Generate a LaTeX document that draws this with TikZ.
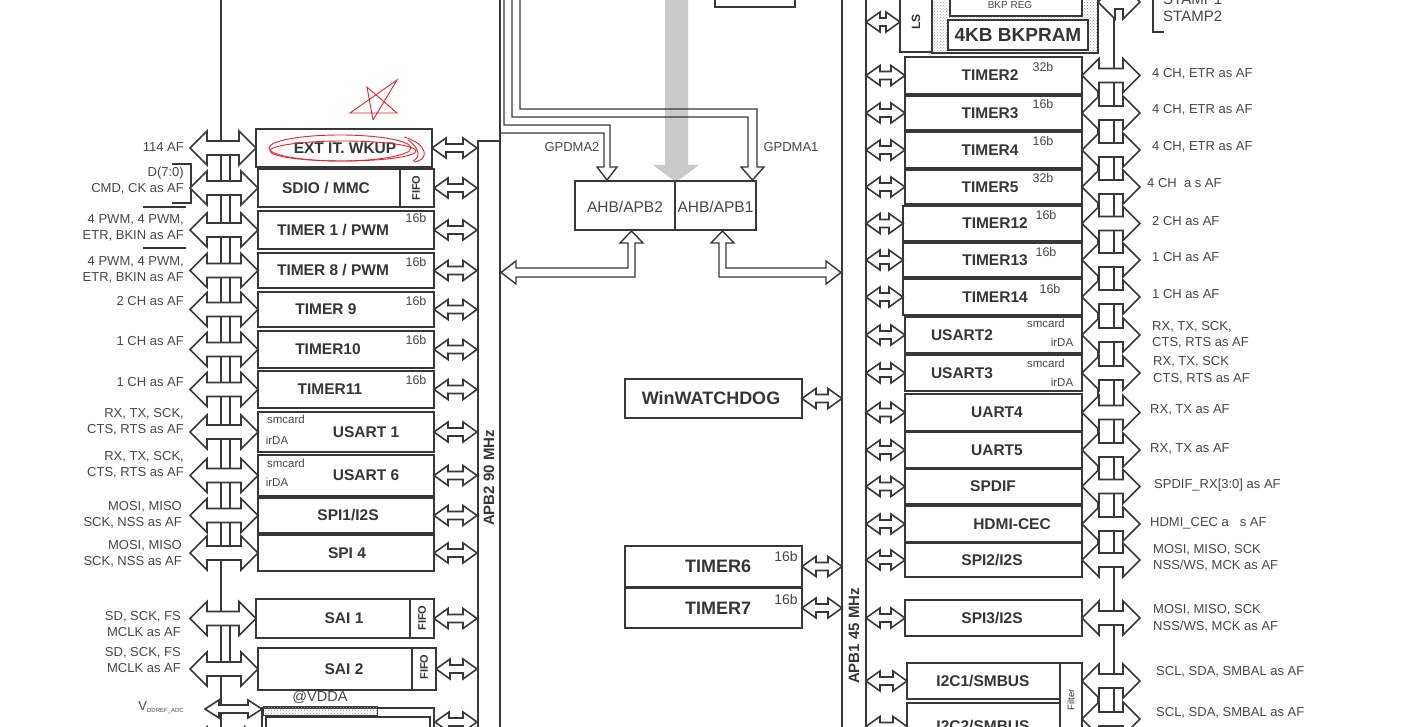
\documentclass[tikz,border=0pt]{standalone}
\usepackage{fontspec}
\setmainfont{Liberation Sans}
\usetikzlibrary{calc,patterns}
\definecolor{lc}{HTML}{383838}
\definecolor{tc}{HTML}{363636}
\definecolor{sc}{HTML}{474747}
\definecolor{rd}{HTML}{E2262C}
\definecolor{gr}{HTML}{C9C9C9}
\tikzset{
 box/.style={draw=lc, line width=1.5pt, fill=white, inner sep=0pt, outer sep=0pt},
 btxt/.style={text=tc, font=\bfseries\fontsize{15.5}{18}\selectfont, inner sep=0pt},
 ctxt/.style={text=tc, font=\bfseries\fontsize{18}{21}\selectfont, inner sep=0pt},
 ltxt/.style={text=sc, font=\fontsize{13}{16}\selectfont, inner sep=0pt, align=right, anchor=east},
 rtxt/.style={text=sc, font=\fontsize{13}{16.5}\selectfont, inner sep=0pt, align=left, anchor=west},
 bitl/.style={text=sc, font=\fontsize{12.5}{14}\selectfont, inner sep=0pt},
 smt/.style={text=sc, font=\fontsize{11.5}{13}\selectfont, inner sep=0pt},
 vtxt/.style={text=tc, font=\bfseries\fontsize{11}{13}\selectfont, inner sep=0pt, rotate=90},
 darr/.style={draw=lc, line width=1.6pt, fill=white, line join=miter},
 bus/.style={draw=lc, line width=1.5pt},
 hol/.style={draw=lc, line width=1.4pt, line join=miter},
 redpen/.style={draw=rd, line width=0.9pt},
}
% box without text
\newcommand{\bxo}[5]{\node[box, minimum width={(#4-#2)*1pt}, minimum height={(#5-#3)*1pt}] (#1) at ({(#2+#4)/2},{(#3+#5)/2}) {};}
% box with text at given x
\newcommand{\bx}[7]{\bxo{#1}{#2}{#3}{#4}{#5}\node[btxt] (#1t) at (#6,{(#3+#5)/2}) {#7};}
% outlined double arrow: left point, right point, shaft half, head half, head length
\newcommand{\DA}[5]{\filldraw[darr] let \p1=#1, \p2=#2 in (\x1,\y1) -- (\x1+#5pt,\y1+#4pt) -- (\x1+#5pt,\y1+#3pt) -- (\x2-#5pt,\y1+#3pt) -- (\x2-#5pt,\y1+#4pt) -- (\x2,\y1) -- (\x2-#5pt,\y1-#4pt) -- (\x2-#5pt,\y1-#3pt) -- (\x1+#5pt,\y1-#3pt) -- (\x1+#5pt,\y1-#4pt) -- cycle;}
\begin{document}
\begin{tikzpicture}[x=1pt,y=-1pt]
\clip (0,0) rectangle (1417,727);
\fill[white] (0,0) rectangle (1417,727);

% bus coordinates
\coordinate (lb) at (190,0);
\coordinate (a2) at (477,0);
\coordinate (a2r) at (500,0);
\coordinate (a1) at (842,0);
\coordinate (a1r) at (866,0);
\coordinate (rb) at (1140,0);

% bus lines
\draw[bus] (221,-5) -- (221,740);
\draw[bus] (230,148) -- (230,553) (230,622) -- (230,669);
\draw[bus] (478,740) -- (478,141) -- (500,141);
\draw[bus] (500,-5) -- (500,740);
\draw[bus] (842,-5) -- (842,740);
\draw[bus] (866,-5) -- (866,740);
\draw[bus] (1114,-5) -- (1114,740);
\draw[bus] (1098,75) -- (1098,560) (1098,680) -- (1098,740);

\node[text=tc, font=\bfseries\fontsize{15}{17}\selectfont, rotate=90, inner sep=0pt] (apb2) at (489,478) {APB2 90 MHz};
\node[text=tc, font=\bfseries\fontsize{15}{17}\selectfont, rotate=90, inner sep=0pt] (apb1) at (854,636) {APB1 45 MHz};

% left side separators
\draw[lc, line width=1.2pt] (172,164) -- (191,164) -- (191,203) -- (172,203);
\draw[lc, line width=1.2pt] (143,207) -- (186,207);
\draw[lc, line width=1.2pt] (143,248) -- (186,248);

% top center box and gray arrow
\draw[lc, line width=1.5pt] (715,-20) rectangle (795,7);
\fill[gr] (665,-5) -- (665,165) -- (653,165) -- (676,182) -- (699,165) -- (688,165) -- (688,-5) -- cycle;

% GPDMA lines
\draw[hol] (504,-5) |- (610,125) -- (610,167) -- (617,167) -- (607,180) -- (597,167) -- (604,167) -- (604,133) -- (500,133);
\draw[hol] (520,-5) |- (757,109) -- (757,167) -- (764,167) -- (752.5,180) -- (741,167) -- (748,167) -- (748,117) -- (512,117) -- (512,-5);
\node[rtxt, anchor=center] (gp2) at (572,147) {GPDMA2};
\node[rtxt, anchor=center] (gp1) at (791,147) {GPDMA1};

% AHB bridges
\bxo{ahb2}{575}{181}{675}{230}
\bxo{ahb1}{675}{181}{756}{230}
\node[text=sc, font=\fontsize{15.5}{18}\selectfont, inner sep=0pt] (ahb2t) at (625,207) {AHB/APB2};
\node[text=sc, font=\fontsize{15.5}{18}\selectfont, inner sep=0pt] (ahb1t) at (715.5,207) {AHB/APB1};
\draw[hol] (628,243) -- (628,268) -- (516,268) -- (516,261) -- (501,272.5) -- (516,284) -- (516,277) -- (635,277) -- (635,243) -- (643,243) -- (631.5,231) -- (620,243) -- cycle;
\draw[hol] (719,243) -- (719,277) -- (826,277) -- (826,284) -- (841,272.5) -- (826,261) -- (826,268) -- (726,268) -- (726,243) -- (734,243) -- (722.5,231) -- (711,243) -- cycle;

% ---------- left column ----------
\bx{ext}{256}{129}{432}{167}{345}{EXT IT. WKUP}
\bx{sdio}{258}{169}{434}{207}{326}{SDIO / MMC}
\bxo{sdiof}{400}{169}{434}{207}
\node[vtxt] (sdioft) at (416,188) {FIFO};
\bx{t1}{258}{211}{434}{249}{333}{TIMER 1 / PWM}
\bx{t8}{258}{253}{434}{288}{333}{TIMER 8 / PWM}
\bx{t9}{258}{292}{434}{327}{326}{TIMER 9}
\bx{t10}{258}{331}{434}{368}{328}{TIMER10}
\bx{t11}{258}{371}{434}{408}{330}{TIMER11}
\bx{u1}{258}{412}{434}{452}{366}{USART 1}
\bx{u6}{258}{455}{434}{496}{366}{USART 6}
\bx{spia}{258}{498}{434}{533}{348}{SPI1/I2S}
\bx{spib}{258}{535}{434}{571}{347}{SPI 4}
\bx{saia}{256}{599}{434}{638}{344}{SAI 1}
\bxo{saiaf}{410}{599}{434}{638}
\node[vtxt] (saiaft) at (422,618) {FIFO};
\bx{saib}{258}{648}{436}{690}{344}{SAI 2}
\bxo{saibf}{412}{648}{436}{690}
\node[vtxt] (saibft) at (424,667) {FIFO};

\node[bitl] (b1) at (416,218) {16b};
\node[bitl] (b8) at (416,262) {16b};
\node[bitl] (b9) at (416,301) {16b};
\node[bitl] (b10) at (416,340) {16b};
\node[bitl] (b11) at (416,380) {16b};
\node[smt] (u1s) at (286,419) {smcard};
\node[smt] (u1i) at (277,440) {irDA};
\node[smt] (u6s) at (286,463) {smcard};
\node[smt] (u6i) at (277,482) {irDA};

% temp sensor area
\node[text=sc, font=\fontsize{14.5}{17}\selectfont, inner sep=0pt] (vdda) at (320,697) {@VDDA};
\bxo{tmp}{262}{708}{434}{780}
\node[draw=lc, line width=1pt, pattern=crosshatch dots, pattern color=gray!70, minimum width=114pt, minimum height=9pt, inner sep=0pt] (strip) at (320,710.5) {};
\bxo{tmpi}{266}{717}{430}{780}
\node[btxt] (tmpt) at (345,733) {TEMP SENSOR};

% left labels
\node[ltxt] (l0) at (184,147) {114 AF};
\node[ltxt] (l1) at (184,181) {D(7:0)\\CMD, CK as AF};
\node[ltxt] (l2) at (184,228) {4 PWM, 4 PWM,\\ETR, BKIN as AF};
\node[ltxt] (l3) at (184,270) {4 PWM, 4 PWM,\\ETR, BKIN as AF};
\node[ltxt] (l4) at (184,301) {2 CH as AF};
\node[ltxt] (l5) at (184,341) {1 CH as AF};
\node[ltxt] (l6) at (184,382) {1 CH as AF};
\node[ltxt] (l7) at (184,421.5) {RX, TX, SCK,\\CTS, RTS as AF};
\node[ltxt] (l8) at (184,464.5) {RX, TX, SCK,\\CTS, RTS as AF};
\node[ltxt] (l9) at (182,515) {MOSI, MISO\\SCK, NSS as AF};
\node[ltxt] (l10) at (182,553.5) {MOSI, MISO\\SCK, NSS as AF};
\node[ltxt] (l11) at (181,624) {SD, SCK, FS\\MCLK as AF};
\node[ltxt] (l12) at (181,660) {SD, SCK, FS\\MCLK as AF};
\node[ltxt] (l13) at (184,708) {V\raisebox{-2pt}{\fontsize{6}{7}\selectfont DDREF\_ADC}};

% left arrows
\foreach \nm in {ext,sdio,t1,t8,t9,t10,t11,u1,u6,spia,spib,saia,saib}{
  \DA{(lb |- \nm.west)}{(\nm.west)}{7}{17}{17}
  \DA{(\nm.east)}{(a2 |- \nm.east)}{4}{10}{14}
}
\coordinate (vd) at (205,709);
\DA{(vd)}{(tmp.west |- vd)}{4}{9}{14}
\coordinate (bl) at (190,744);
\DA{(bl)}{(tmp.west |- bl)}{7}{17}{17}
\coordinate (tpa) at (435,722);
\DA{(tpa)}{(a2 |- tpa)}{4}{10}{14}

% ---------- center ----------
\bxo{wwd}{625}{379}{802}{418}
\node[ctxt] (wwdt) at (711,398) {WinWATCHDOG};
\bxo{t6}{625}{546}{802}{587}
\node[ctxt] (t6t) at (718,566) {TIMER6};
\bxo{t7}{625}{588}{802}{628}
\node[ctxt] (t7t) at (718,608) {TIMER7};
\node[bitl, font=\fontsize{14}{16}\selectfont] (b6) at (786,556) {16b};
\node[bitl, font=\fontsize{14}{16}\selectfont] (b7) at (786,599) {16b};
\foreach \nm in {wwd,t6,t7}{
  \DA{(\nm.east)}{(a1 |- \nm.east)}{4}{10}{14}
}

% ---------- right top (backup domain) ----------
\bxo{ls}{900}{-30}{932}{52}
\node[vtxt, font=\bfseries\fontsize{12}{14}\selectfont] (lst) at (916,22) {LS};
\node[draw=lc, line width=1.2pt, pattern=crosshatch dots, pattern color=gray!70, minimum width=166pt, minimum height=83pt, inner sep=0pt] (bkpd) at (1015,11.5) {};
\bxo{bkpreg}{950}{-30}{1082}{16}
\node[text=sc, font=\fontsize{10}{12}\selectfont, inner sep=0pt] (bkpregt) at (1010,5) {BKP REG};
\bxo{bkpram}{948}{20}{1088}{50}
\draw[lc, line width=2.2pt] (bkpram.south west) -- (bkpram.south east) (bkpram.north west) -- (bkpram.north east);
\node[text=tc, font=\bfseries\fontsize{19}{22}\selectfont, inner sep=0pt] (bkpramt) at (1018,35) {4KB BKPRAM};
\coordinate (lsc) at (900,22);
\DA{(a1r |- lsc)}{(lsc)}{4}{10}{14}
\coordinate (st) at (1098,2);
\DA{(st)}{(rb |- st)}{7}{17}{17}
\node[rtxt, font=\fontsize{15}{17}\selectfont] (stamp) at (1163,8) {STAMP1\\STAMP2};
\draw[lc, line width=1.2pt] (1153,-5) -- (1153,32) -- (1164,32);

% ---------- right column ----------
\bx{r2}{905}{57}{1082}{94}{990}{TIMER2}
\bx{r3}{905}{96}{1082}{130}{990}{TIMER3}
\bx{r4}{905}{132}{1082}{168}{990}{TIMER4}
\bx{r5}{905}{170}{1082}{204}{990}{TIMER5}
\bx{r12}{903}{206}{1082}{241}{995}{TIMER12}
\bx{r13}{903}{243}{1082}{277}{995}{TIMER13}
\bx{r14}{903}{279}{1082}{315}{995}{TIMER14}
\bx{ru2}{905}{317}{1082}{353}{962}{USART2}
\bx{ru3}{905}{355}{1082}{391}{962}{USART3}
\bx{ru4}{905}{394}{1082}{431}{997}{UART4}
\bx{ru5}{905}{432}{1082}{468}{997}{UART5}
\bx{spd}{905}{469}{1082}{504}{993}{SPDIF}
\bx{hdmi}{905}{506}{1082}{542}{1012}{HDMI-CEC}
\bx{spic}{905}{543}{1082}{577}{992}{SPI2/I2S}
\bx{spid}{905}{600}{1082}{636}{992}{SPI3/I2S}
\bx{ica}{907}{663}{1060}{699}{983}{I2C1/SMBUS}
\bx{icb}{907}{703}{1060}{750}{983}{I2C2/SMBUS}
\bxo{filt}{1060}{663}{1082}{750}
\node[vtxt, font=\fontsize{9.5}{11}\selectfont] (filtt) at (1071,700) {Filter};

\node[bitl] (rb2) at (1043,67) {32b};
\node[bitl] (rb3) at (1043,104) {16b};
\node[bitl] (rb4) at (1043,141) {16b};
\node[bitl] (rb5) at (1043,178) {32b};
\node[bitl] (rb12) at (1046,215) {16b};
\node[bitl] (rb13) at (1046,252) {16b};
\node[bitl] (rb14) at (1050,289) {16b};
\node[smt] (ru2s) at (1046,323) {smcard};
\node[smt] (ru2i) at (1062,342) {irDA};
\node[smt] (ru3s) at (1046,363) {smcard};
\node[smt] (ru3i) at (1062,382) {irDA};

\foreach \nm in {r2,r3,r4,r5,r12,r13,r14,ru2,ru3,ru4,ru5,spd,hdmi,spic,spid,ica,icb}{
  \DA{(a1r |- \nm.west)}{(\nm.west)}{4}{10}{14}
}
\foreach \nm in {r2,r3,r4,r5,r12,r13,r14,ru2,ru3,ru4,ru5,spd,hdmi,spic,spid}{
  \DA{(\nm.east)}{(rb |- \nm.east)}{7}{17}{17}
}
\coordinate (icby) at (0,719);
\DA{(ica.east -| filt.east)}{(rb |- ica.east)}{7}{17}{17}
\DA{(filt.east |- icby)}{(rb |- icby)}{7}{17}{17}

% right labels
\node[rtxt] (q2) at (1152,74) {4 CH, ETR as AF};
\node[rtxt] (q3) at (1152,110) {4 CH, ETR as AF};
\node[rtxt] (q4) at (1152,147) {4 CH, ETR as AF};
\node[rtxt] (q5) at (1147,183) {4 CH\ \ a s AF};
\node[rtxt] (q12) at (1152,221) {2 CH as AF};
\node[rtxt] (q13) at (1152,257) {1 CH as AF};
\node[rtxt] (q14) at (1152,294) {1 CH as AF};
\node[rtxt] (q15) at (1152,335) {RX, TX, SCK,\\CTS, RTS as AF};
\node[rtxt] (q16) at (1153,370.5) {RX, TX, SCK\\CTS, RTS as AF};
\node[rtxt] (q17) at (1150,410) {RX, TX as AF};
\node[rtxt] (q18) at (1150,449) {RX, TX as AF};
\node[rtxt] (q19) at (1154,485) {SPDIF\_RX[3:0] as AF};
\node[rtxt] (q20) at (1150,523) {HDMI\_CEC a\ \ \ s AF};
\node[rtxt] (q21) at (1153,558) {MOSI, MISO, SCK\\NSS/WS, MCK as AF};
\node[rtxt] (q22) at (1153,618.5) {MOSI, MISO, SCK\\NSS/WS, MCK as AF};
\node[rtxt] (q23) at (1156,672) {SCL, SDA, SMBAL as AF};
\node[rtxt] (q24) at (1156,713) {SCL, SDA, SMBAL as AF};

% red annotations
\draw[redpen] (340,148) ellipse [x radius=71, y radius=13];
\draw[redpen] (343,151) ellipse [x radius=73, y radius=10];
\draw[redpen] (404,137) .. controls (428,144) and (430,160) .. (414,162);
\draw[redpen] (408,140) .. controls (421,149) and (420,158) .. (413,161);
\draw[redpen] (373,120) -- (367,87) -- (397,113) -- (350,113) -- (397,80) -- (373,120);
\end{tikzpicture}
\end{document}
